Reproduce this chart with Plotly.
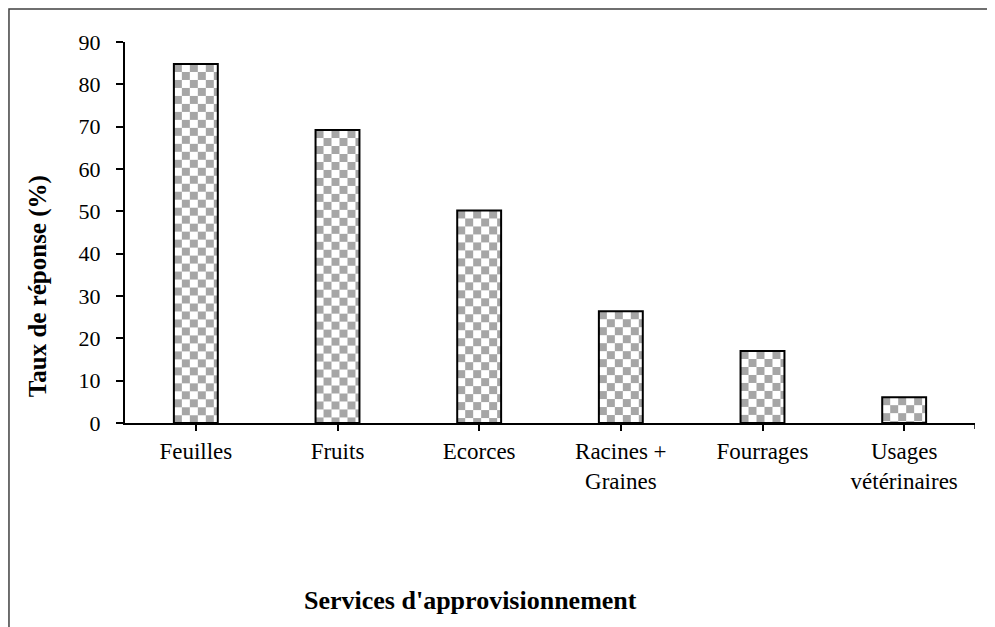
import base64
import plotly.graph_objects as go

categories = ["Feuilles", "Fruits", "Ecorces", "Racines +<br>Graines", "Fourrages", "Usages<br>vétérinaires"]
values = [84.8, 69.2, 50.2, 26.4, 17.0, 6.1]
y_ticks = [0, 10, 20, 30, 40, 50, 60, 70, 80, 90]

FONT = "Liberation Serif, Times New Roman, serif"
GREY = "#a6a6a6"

# checkerboard fill, drawn as an image behind each bar
svg = (
    '<svg xmlns="http://www.w3.org/2000/svg" width="44" height="480" '
    'viewBox="0 0 44 480" preserveAspectRatio="xMidYMin slice">'
    '<defs><pattern id="c" width="16" height="16" patternUnits="userSpaceOnUse">'
    '<rect width="16" height="16" fill="#ffffff"/>'
    f'<rect width="8" height="8" fill="{GREY}"/>'
    f'<rect x="8" y="8" width="8" height="8" fill="{GREY}"/>'
    '</pattern></defs><rect width="44" height="480" fill="url(#c)"/></svg>'
)
checker = "data:image/svg+xml;base64," + base64.b64encode(svg.encode()).decode()

bar_width = 0.31

fig = go.Figure()
fig.add_trace(go.Bar(
    x=list(range(len(categories))), y=values, width=bar_width,
    marker=dict(color="rgba(0,0,0,0)", line=dict(color="black", width=2)),
    hoverinfo="skip",
))

images = []
for i, v in enumerate(values):
    images.append(dict(
        source=checker, xref="x", yref="y",
        x=i - bar_width / 2, y=v, sizex=bar_width, sizey=v,
        xanchor="left", yanchor="top", sizing="fill", layer="below",
    ))

# page body adds an 8px margin, so the figure is a bit smaller than the window
fig.update_layout(
    width=987, height=619,
    margin=dict(l=117, r=20, t=34, b=204),
    paper_bgcolor="white", plot_bgcolor="white",
    showlegend=False,
    font=dict(family=FONT, size=22, color="black"),
    images=images,
    xaxis=dict(
        tickmode="array", tickvals=list(range(len(categories))), ticktext=categories,
        range=[-0.5, len(categories) - 0.5],
        showline=True, linecolor="black", linewidth=2,
        ticks="outside", ticklen=6, tickwidth=1.5, tickcolor="black",
        showgrid=False, zeroline=False, tickfont=dict(size=23),
    ),
    yaxis=dict(
        range=[0, 90], tickvals=y_ticks,
        showline=True, linecolor="black", linewidth=2,
        ticks="outside", ticklen=7, tickwidth=1.5, tickcolor="black",
        ticklabelstandoff=11,
        showgrid=False, zeroline=False, tickfont=dict(size=22),
    ),
    annotations=[
        dict(text="<b>Taux de réponse (%)</b>", xref="paper", yref="paper",
             x=-0.102, y=0.36, xanchor="center", yanchor="middle",
             textangle=-90, showarrow=False, font=dict(size=25)),
        dict(text="<b>Services d'approvisionnement</b>", xref="paper", yref="paper",
             x=0.406, y=-0.465, xanchor="center", yanchor="middle",
             showarrow=False, font=dict(size=26)),
    ],
    shapes=[
        # end tick on the category axis
        dict(type="line", xref="x", yref="paper", x0=len(categories) - 0.5, x1=len(categories) - 0.5,
             y0=0, y1=-6 / 381, line=dict(color="black", width=1.5)),
        # outer frame
        dict(type="rect", xref="paper", yref="paper", x0=-0.1365, x1=1.05, y0=-0.6, y1=1.0866,
             line=dict(color="#404040", width=1.5)),
    ],
)

fig.write_html("out.html")
